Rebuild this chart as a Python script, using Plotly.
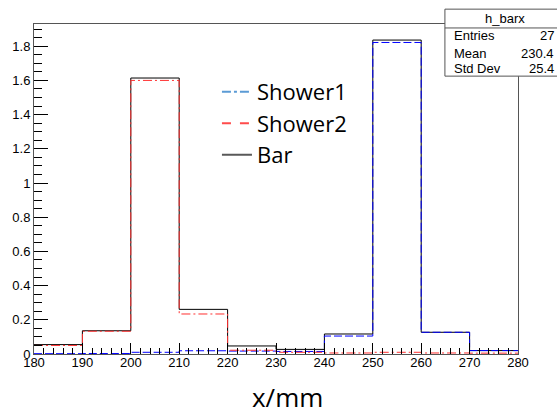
import plotly.graph_objects as go

bin_edges = [180, 190, 200, 210, 220, 230, 240, 250, 260, 270, 280]
bar_vals = [0.055, 0.136, 1.614, 0.261, 0.047, 0.027, 0.117, 1.836, 0.127, 0.020]
shower1_vals = [0.002, 0.003, 0.010, 0.019, 0.017, 0.015, 0.105, 1.822, 0.127, 0.020]
shower2_vals = [0.050, 0.133, 1.600, 0.234, 0.022, 0.010, 0.006, 0.010, 0.006, 0.005]

stat_title = "h_barx"
stat_labels = ["Entries", "Mean", "Std Dev"]
stat_values = ["27", "230.4", "25.4"]

def step(vals):
    return vals + [vals[-1]]

fig = go.Figure()
fig.add_trace(go.Scatter(x=bin_edges, y=step(bar_vals), mode="lines", line_shape="hv",
                         line=dict(color="black", width=1), showlegend=False))
fig.add_trace(go.Scatter(x=bin_edges, y=step(shower1_vals), mode="lines", line_shape="hv",
                         line=dict(color="#0000ff", width=1, dash="8px,3px"), showlegend=False))
fig.add_trace(go.Scatter(x=bin_edges, y=step(shower2_vals), mode="lines", line_shape="hv",
                         line=dict(color="#ff3030", width=1, dash="9px,3px,2px,3px"), showlegend=False))

# legend entries
fig.add_trace(go.Scatter(x=[None], y=[None], mode="lines", name="Shower1",
                         line=dict(color="#5b9bd5", width=2, dash="dashdot")))
fig.add_trace(go.Scatter(x=[None], y=[None], mode="lines", name="Shower2",
                         line=dict(color="#ff4b4b", width=2, dash="dash")))
fig.add_trace(go.Scatter(x=[None], y=[None], mode="lines", name="Bar",
                         line=dict(color="#595959", width=2)))

tickfont = dict(family="Liberation Sans, Arial, sans-serif", size=13, color="black")

fig.update_layout(
    width=557, height=409,
    margin=dict(l=34, r=39, t=24, b=55),
    paper_bgcolor="white", plot_bgcolor="white",
    showlegend=True,
    legend=dict(x=0.378, y=0.858, xanchor="left", yanchor="top",
                font=dict(family="Open Sans, sans-serif", size=22, color="black"),
                bgcolor="rgba(0,0,0,0)", borderwidth=0),
    xaxis=dict(range=[180, 280], dtick=10, tick0=180, ticks="inside", ticklen=11,
               tickcolor="black", showline=True, linecolor="#555", mirror=True,
               showgrid=False, zeroline=False, tickfont=tickfont, automargin=False,
               ticklabelstandoff=-4,
               minor=dict(ticks="inside", dtick=2, ticklen=6, tickcolor="black")),
    yaxis=dict(range=[0, 1.93], dtick=0.2, tick0=0, ticks="inside", ticklen=14,
               tickcolor="black", showline=True, linecolor="#555", mirror=True,
               showgrid=False, zeroline=False, tickfont=tickfont, automargin=False,
               minor=dict(ticks="inside", dtick=0.05, ticklen=8, tickcolor="black")),
)

# x axis title
fig.add_annotation(text="x/mm", xref="paper", yref="paper", x=0.523, y=-0.131,
                   xanchor="center", yanchor="middle", showarrow=False,
                   font=dict(family="Open Sans, sans-serif", size=26, color="black"))

# stat box
fig.add_shape(type="rect", xref="paper", yref="paper", x0=0.849, x1=1.12, y0=0.842, y1=1.045,
              line=dict(color="#555", width=1), fillcolor="white", layer="above")
fig.add_shape(type="line", xref="paper", yref="paper", x0=0.849, x1=1.12, y0=0.988, y1=0.988,
              line=dict(color="#555", width=1), layer="above")
fig.add_annotation(text=stat_title, xref="paper", yref="paper", x=0.973, y=1.017,
                   xanchor="center", yanchor="middle", showarrow=False, font=tickfont)
row_y = [0.964, 0.912, 0.864]
for lab, val, yy in zip(stat_labels, stat_values, row_y):
    fig.add_annotation(text=lab, xref="paper", yref="paper", x=0.863, y=yy,
                       xanchor="left", yanchor="middle", showarrow=False, font=tickfont)
    fig.add_annotation(text=val, xref="paper", yref="paper", x=1.0785, y=yy,
                       xanchor="right", yanchor="middle", showarrow=False, font=tickfont)

fig.write_html("out.html", config={"displayModeBar": False},
               post_script="document.body.style.margin='0px';document.body.style.overflow='hidden';")
